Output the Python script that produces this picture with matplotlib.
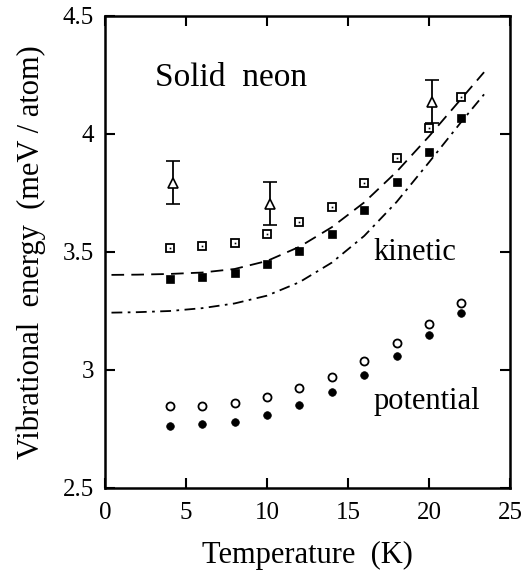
import matplotlib
matplotlib.use("Agg")
import matplotlib.pyplot as plt

plt.rcParams['font.family'] = ['Liberation Serif', 'DejaVu Serif']

# Data
T = [4, 6, 8, 10, 12, 14, 16, 18, 20, 22]
kin_open = [3.518, 3.525, 3.539, 3.576, 3.627, 3.692, 3.791, 3.900, 4.027, 4.158]
kin_filled = [3.386, 3.393, 3.410, 3.449, 3.504, 3.576, 3.678, 3.795, 3.925, 4.066]
pot_open = [2.847, 2.849, 2.862, 2.887, 2.922, 2.972, 3.037, 3.113, 3.196, 3.283]
pot_filled = [2.764, 2.770, 2.781, 2.811, 2.853, 2.905, 2.979, 3.061, 3.148, 3.243]

T_exp = [4.2, 10.2, 20.2]
E_exp = [3.794, 3.705, 4.137]
E_err = [0.09, 0.09, 0.09]

T_curve = [0.4, 2, 4, 6, 8, 10, 12, 14, 16, 18, 20, 22, 23.4]
dashed_curve = [3.403, 3.404, 3.407, 3.413, 3.428, 3.462, 3.522, 3.605, 3.710, 3.840, 3.990, 4.150, 4.262]
dashdot_curve = [3.243, 3.245, 3.250, 3.262, 3.282, 3.315, 3.372, 3.455, 3.568, 3.712, 3.880, 4.052, 4.168]

fig = plt.figure(figsize=(5.23, 5.72), dpi=100)
ax = fig.add_axes([105/523, 1-488/572, 405/523, 472/572])

ax.plot(T_curve, dashed_curve, color='black', lw=1.3, dashes=(7, 4))
ax.plot(T_curve, dashdot_curve, color='black', lw=1.3, dashes=(6, 3, 1.5, 3))

ax.plot(T, kin_open, ls='none', marker='s', ms=5.5, mfc='white', mec='black', mew=1.3)
ax.plot(T, kin_open, ls='none', marker='s', ms=1.2, mfc='black', mec='black', mew=0)
ax.plot(T, kin_filled, ls='none', marker='s', ms=5.5, mfc='black', mec='black', mew=0.5)
ax.plot(T, pot_open, ls='none', marker='o', ms=5.8, mfc='white', mec='black', mew=1.3)
ax.plot(T, pot_filled, ls='none', marker='o', ms=5.5, mfc='black', mec='black', mew=0.5)

ax.errorbar(T_exp, E_exp, yerr=E_err, fmt='^', ms=7, mfc='white', mec='black',
            mew=1.2, ecolor='black', elinewidth=1.3, capsize=5, capthick=1.3)

ax.set_xlim(0, 25)
ax.set_ylim(2.5, 4.5)
ax.set_xticks([0, 5, 10, 15, 20, 25])
ax.set_xticklabels(['0', '5', '10', '15', '20', '25'])
ax.set_yticks([2.5, 3, 3.5, 4, 4.5])
ax.set_yticklabels(['2.5', '3', '3.5', '4', '4.5'])
ax.tick_params(direction='in', length=7, width=1.5, top=True, right=True,
               labelsize=18, pad=8)
ax.tick_params(axis='x', pad=10)
for s in ax.spines.values():
    s.set_linewidth(1.8)

ax.set_xlabel('Temperature  (K)', fontsize=22, labelpad=12)
ax.set_ylabel('Vibrational  energy  (meV / atom)', fontsize=22, labelpad=12)

ax.text(3.1, 4.237, 'Solid  neon', fontsize=24, va='center', ha='left')
ax.text(16.6, 3.496, 'kinetic', fontsize=22, va='center', ha='left')
ax.text(16.6, 2.866, 'potential', fontsize=22, va='center', ha='left')

fig.savefig('out.png', dpi=100)
